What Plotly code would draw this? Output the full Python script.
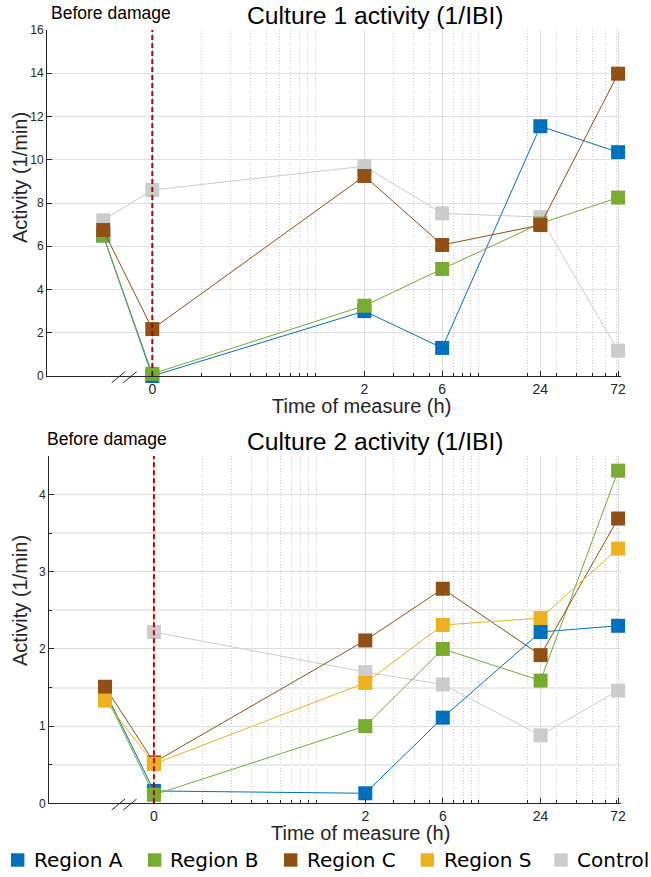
import math
import plotly.graph_objects as go

# ---------------- data ----------------
time_labels = ["Before", "0", "2", "6", "24", "72"]
# hour positions on the log axis ("0 h" drawn at 0.1 h, "before" at 0.05 h)
time_pos = [0.05, 0.1, 2, 6, 24, 72]
tick_vals = [0.1, 2, 6, 24, 72]
tick_text = ["0", "2", "6", "24", "72"]
minor_vals = [0.2, 0.3, 0.4, 0.5, 0.6, 0.7, 0.8, 0.9, 1, 3, 4, 5, 7, 8, 9, 10,
              20, 30, 40, 50, 60, 70]

c1_region_a = [6.5, 0.0, 3.0, 1.3, 11.55, 10.35]
c1_region_b = [6.5, 0.1, 3.25, 4.95, 7.05, 8.25]
c1_region_c = [6.75, 2.17, 9.25, 6.06, 6.98, 13.98]
c1_control = [7.2, 8.6, 9.7, 7.52, 7.35, 1.17]

c2_region_a = [1.45, 0.16, 0.13, 1.11, 2.22, 2.30]
c2_region_b = [1.42, 0.11, 1.00, 2.00, 1.59, 4.31]
c2_region_c = [1.51, 0.53, 2.11, 2.78, 1.92, 3.69]
c2_region_s = [1.33, 0.51, 1.56, 2.31, 2.40, 3.30]
c2_control = [None, 2.22, 1.70, 1.54, 0.88, 1.46]

names = ["Region A", "Region B", "Region C", "Region S", "Control"]
colors = {"Region A": "#0072BD", "Region B": "#77AC30", "Region C": "#915014",
          "Region S": "#EDB120", "Control": "#CCCCCC"}

W, H = 651, 877
def px(x):
    return x / W
def py(y):
    return 1 - y / H

fig = go.Figure()

def add_series(name, vals, xa, ya):
    fig.add_trace(go.Scatter(
        x=time_pos, y=vals, mode="lines+markers", name=name,
        xaxis=xa, yaxis=ya, showlegend=False, cliponaxis=False,
        line=dict(color=colors[name], width=1),
        marker=dict(symbol="square", size=14, color=colors[name],
                    line=dict(width=0)),
    ))

# culture 1
add_series("Control", c1_control, "x", "y")
add_series("Region A", c1_region_a, "x", "y")
add_series("Region B", c1_region_b, "x", "y")
add_series("Region C", c1_region_c, "x", "y")
# culture 2
add_series("Control", c2_control, "x2", "y2")
add_series("Region A", c2_region_a, "x2", "y2")
add_series("Region B", c2_region_b, "x2", "y2")
add_series("Region C", c2_region_c, "x2", "y2")
add_series("Region S", c2_region_s, "x2", "y2")

# damage lines (at "0 h")
for xa, ya, top in (("x", "y", 16), ("x2", "y2", 4.5)):
    fig.add_trace(go.Scatter(
        x=[tick_vals[0], tick_vals[0]], y=[0, top], mode="lines",
        xaxis=xa, yaxis=ya, showlegend=False, hoverinfo="skip",
        line=dict(color="#C00000", width=2, dash="5px,3px"),
    ))

xr = [math.log10(0.0226), math.log10(75)]
tickfont = dict(family="Liberation Sans, Arial", size=14, color="#262626")
def xaxis(domain, anchor):
    return dict(
        domain=domain, anchor=anchor, type="log", range=xr,
        tickmode="array", tickvals=tick_vals, ticktext=tick_text,
        ticks="inside", ticklen=5, tickcolor="#262626",
        showline=True, linecolor="#262626", linewidth=1,
        showgrid=True, gridcolor="#DCDCDC", gridwidth=1,
        zeroline=False, tickfont=tickfont,
        minor=dict(tickvals=minor_vals, showgrid=True, griddash="1px,2px",
                   gridcolor="#CACACA", gridwidth=1, ticks="inside",
                   ticklen=3, tickcolor="#262626"),
    )

ytickfont = dict(family="Liberation Sans, Arial", size=12, color="#262626")
fig.update_layout(
    width=W, height=H,
    margin=dict(l=0, r=0, t=0, b=0, pad=0, autoexpand=False),
    paper_bgcolor="white", plot_bgcolor="white", showlegend=False,
    xaxis=xaxis([px(47), px(621)], "y"),
    yaxis=dict(domain=[py(376), py(30)], anchor="x", range=[0, 16],
               dtick=2, tick0=0, ticks="inside", ticklen=5,
               tickcolor="#262626", showline=True, linecolor="#262626",
               gridcolor="#E0E0E0", zeroline=False, tickfont=ytickfont),
    xaxis2=xaxis([px(49), px(621)], "y2"),
    yaxis2=dict(domain=[py(803.3), py(456)], anchor="x2", range=[0, 4.5],
                tickvals=[0, 1, 2, 3, 4], ticks="inside", ticklen=5,
                tickcolor="#262626", showline=True, linecolor="#262626",
                gridcolor="#DCDCDC", zeroline=False, tickfont=ytickfont,
                minor=dict(tickvals=[0.5, 1.5, 2.5, 3.5], showgrid=True,
                           gridcolor="#EAEAEA", gridwidth=2, ticks="inside",
                           ticklen=3, tickcolor="#262626")),
)

ann_title = dict(family="Liberation Sans, Arial", size=24.7, color="black")
ann_small = dict(family="Liberation Sans, Arial", size=17.5, color="black")
ann_axis = dict(family="Liberation Sans, Arial", size=20, color="#262626")
ann_leg = dict(family="DejaVu Sans", size=20, color="black")
annotations = [
    dict(text="Culture 1 activity (1/IBI)", x=px(375.5), y=py(15.5), font=ann_title),
    dict(text="Before damage", x=px(111), y=py(13.5), font=ann_small),
    dict(text="Culture 2 activity (1/IBI)", x=px(375.5), y=py(441), font=ann_title),
    dict(text="Before damage", x=px(107), y=py(438.5), font=ann_small),
    dict(text="Activity (1/min)", x=px(20), y=py(178), textangle=-90, font=ann_axis),
    dict(text="Activity (1/min)", x=px(20), y=py(601), textangle=-90, font=ann_axis),
    dict(text="Time of measure (h)", x=px(361), y=py(406), font=ann_axis),
    dict(text="Time of measure (h)", x=px(360), y=py(833), font=ann_axis),
]
for a in annotations:
    a.update(xanchor="center")

# legend (key squares + labels)
leg_square_x = [17.7, 154.7, 290.7, 427.3, 561]
leg_text_x = [31.7, 168.3, 305, 441.7, 575]
leg_y = 860
shapes = []
for n, sx, tx in zip(names, leg_square_x, leg_text_x):
    shapes.append(dict(type="rect", xref="paper", yref="paper",
                       x0=px(sx - 6.7), x1=px(sx + 6.7),
                       y0=py(leg_y + 6.7), y1=py(leg_y - 6.7),
                       fillcolor=colors[n], line=dict(width=0)))
    annotations.append(dict(text=n, x=px(tx), y=py(leg_y), font=ann_leg,
                            xanchor="left"))

for a in annotations:
    a.update(xref="paper", yref="paper", showarrow=False, yanchor="middle")
fig.update_layout(annotations=annotations)

# axis-break marks
for base in (376, 803.3):
    for x0 in (111.7, 123.3):
        shapes.append(dict(type="line", xref="paper", yref="paper",
                           x0=px(x0), y0=py(base + 6.7), x1=px(x0 + 13.3),
                           y1=py(base - 4.3),
                           line=dict(color="#262626", width=1)))
fig.update_layout(shapes=shapes)

fig.write_html(
    "out.html",
    config={"displayModeBar": False},
    post_script="document.body.style.margin='0';"
                "document.body.style.overflow='hidden';",
)
